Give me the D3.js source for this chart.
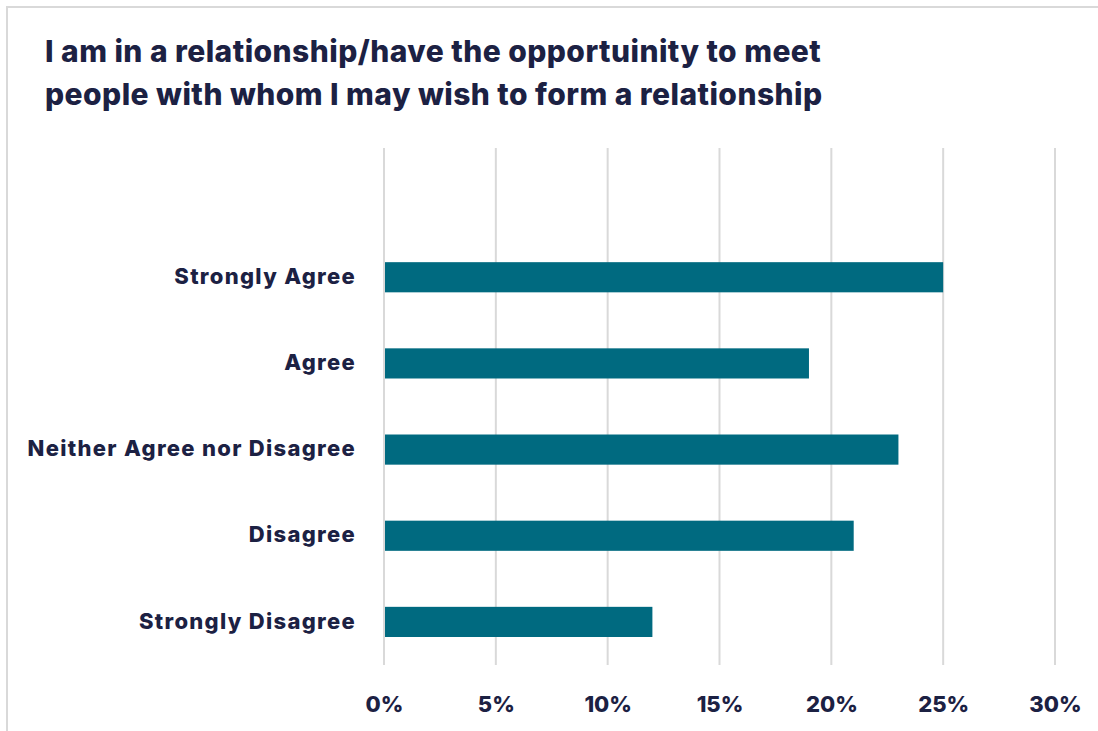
<!DOCTYPE html>
<html>
<head>
<meta charset="utf-8">
<script src="https://cdn.jsdelivr.net/npm/d3@7"></script>
<style>
  html, body { margin: 0; padding: 0; background: #fff; }
  svg { display: block; }
  text { font-family: Inter, "Open Sans", sans-serif; fill: #1c2143; }
</style>
</head>
<body>
<script>
// Survey responses, share of respondents (%)
const categories = ["Strongly Agree", "Agree", "Neither Agree nor Disagree", "Disagree", "Strongly Disagree"];
const values = [25, 19, 23, 21, 12];
const tickValues = [0, 5, 10, 15, 20, 25, 30];
const titleLines = [
  "I am in a relationship/have the opportuinity to meet",
  "people with whom I may wish to form a relationship"
];

const width = 1098, height = 731;
const svg = d3.select("body").append("svg")
  .attr("width", width).attr("height", height);

// Card frame (top and left edges)
svg.append("path")
  .attr("d", `M7,${height} V7 H${width}`)
  .attr("fill", "none")
  .attr("stroke", "#d9d9d9")
  .attr("stroke-width", 2);

// Title
svg.append("g").selectAll("text")
  .data(titleLines)
  .join("text")
  .attr("x", 45)
  .attr("y", (d, i) => 62 + i * 43)
  .attr("font-size", 30)
  .attr("font-weight", 800)
  .attr("letter-spacing", 0.45)
  .text(d => d);

const plotTop = 148, plotBottom = 665;
const x = d3.scaleLinear().domain([0, 30]).range([384, 1055]);

// Six equal bands, the first left empty above the bars
const step = (plotBottom - plotTop) / 6;
const y = d3.scaleBand()
  .domain(categories)
  .range([plotTop + step, plotBottom])
  .paddingInner(0.65)
  .paddingOuter(0.325);

// Vertical gridlines
svg.append("g").selectAll("line")
  .data(tickValues)
  .join("line")
  .attr("x1", d => x(d)).attr("x2", d => x(d))
  .attr("y1", plotTop).attr("y2", plotBottom)
  .attr("stroke", "#d9d9d9")
  .attr("stroke-width", 2);

// Bars
svg.append("g").selectAll("rect")
  .data(values)
  .join("rect")
  .attr("x", x(0) + 1)
  .attr("y", (d, i) => y(categories[i]))
  .attr("width", d => x(d) - x(0) - 1)
  .attr("height", y.bandwidth())
  .attr("fill", "#006a80");

// Category labels
const yAxis = d3.axisLeft(y).tickSize(0).tickPadding(0);
const gy = svg.append("g").attr("transform", "translate(356,0)").call(yAxis);
gy.select(".domain").remove();
gy.selectAll("text")
  .attr("font-size", 22)
  .attr("font-weight", 800)
  .attr("letter-spacing", 1.3)
  .attr("dy", "0.3em")
  .attr("fill", "#1c2143")
  .style("font-family", "Inter, sans-serif");

// Percentage axis
const xAxis = d3.axisBottom(x).tickValues(tickValues).tickSize(0).tickPadding(0)
  .tickFormat(d => d + "%");
const gx = svg.append("g").attr("transform", "translate(0,696)").call(xAxis);
gx.select(".domain").remove();
gx.selectAll("text")
  .attr("font-size", 22)
  .attr("font-weight", 800)
  .attr("fill", "#1c2143")
  .style("font-family", "Inter, sans-serif");
</script>
</body>
</html>
